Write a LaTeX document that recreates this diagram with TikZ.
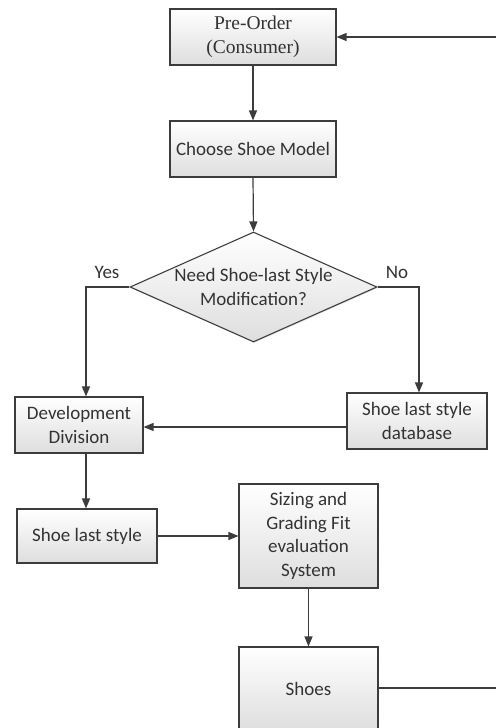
\documentclass[tikz,border=0pt]{standalone}
\usepackage{fontspec}
\setmainfont{Carlito}
\newfontfamily\serifface{Liberation Serif}
\usetikzlibrary{arrows.meta,shapes.geometric,shadows}
\definecolor{linec}{HTML}{3C3C3C}
\definecolor{textc}{HTML}{333333}
\tikzset{
  procbox/.style={draw=linec, line width=1.1pt, rectangle, inner sep=0pt,
    top color=white, bottom color=black!13, text=textc, align=center,
    font=\fontsize{19}{23.5}\selectfont,
    drop shadow={opacity=0.25, shadow xshift=1.2pt, shadow yshift=-1.2pt}},
  conn/.style={draw=linec, line width=1.2pt},
  arr/.style={conn, -{Triangle[length=10pt,width=8pt]}},
  lbl/.style={text=textc, font=\fontsize{19}{23.5}\selectfont, inner sep=0pt}
}
\begin{document}
\begin{tikzpicture}[x=1pt,y=-1pt]
\useasboundingbox (0,0) rectangle (496,728);
\fill[white] (0,0) rectangle (496,728);
\clip (0,0) rectangle (496,728);

\node[procbox, minimum width=166, minimum height=56, font=\serifface\fontsize{19.5}{24}\selectfont] (pre) at (253,37) {Pre-Order\\(Consumer)};
\node[procbox, minimum width=166, minimum height=56] (choose) at (253,149) {Choose Shoe Model};
\node[diamond, draw=linec, line width=1.1pt, inner sep=0pt, minimum width=247, minimum height=110,
      top color=white, bottom color=black!13, drop shadow={opacity=0.2, shadow xshift=1pt, shadow yshift=-1pt}] (dec) at (253.5,287) {};
\node[lbl, align=center] (dectext) at (253.5,287) {Need Shoe-last Style\\Modification?};
\node[procbox, minimum width=128, minimum height=56] (dev) at (79,425) {Development\\Division};
\node[procbox, minimum width=140, minimum height=56] (db) at (417,421) {Shoe last style\\database};
\node[procbox, minimum width=140, minimum height=54] (sls) at (87,536) {Shoe last style};
\node[procbox, minimum width=139, minimum height=104] (size) at (308.5,536) {Sizing and\\Grading Fit\\evaluation\\System};
\node[procbox, minimum width=139, minimum height=84] (shoes) at (308.5,689) {Shoes};

\node[lbl] (yes) at (107,272) {Yes};
\node[lbl] (no) at (397,272) {No};

\coordinate (redge) at (496,37);
\coordinate (redge2) at (496,689);

\draw[arr] (redge) -- (pre.east);
\draw[arr] (pre.south) -- (choose.north);
\draw[arr] (choose.south) -- (dec.north);
\draw[arr] (dec.west) -| (dev.north -| 86,0);
\draw[arr] (dec.east) -| (db.north -| 419,0);
\draw[arr] (db.west |- 0,427) -- (dev.east |- 0,427);
\draw[arr] (dev.south -| 86,0) -- (sls.north -| 86,0);
\draw[arr] (sls.east) -- (size.west |- sls.east);
\draw[arr] (size.south) -- (shoes.north);
\draw[conn] (shoes.east |- 0,688) -- (redge2 |- 0,688);
\end{tikzpicture}
\end{document}
